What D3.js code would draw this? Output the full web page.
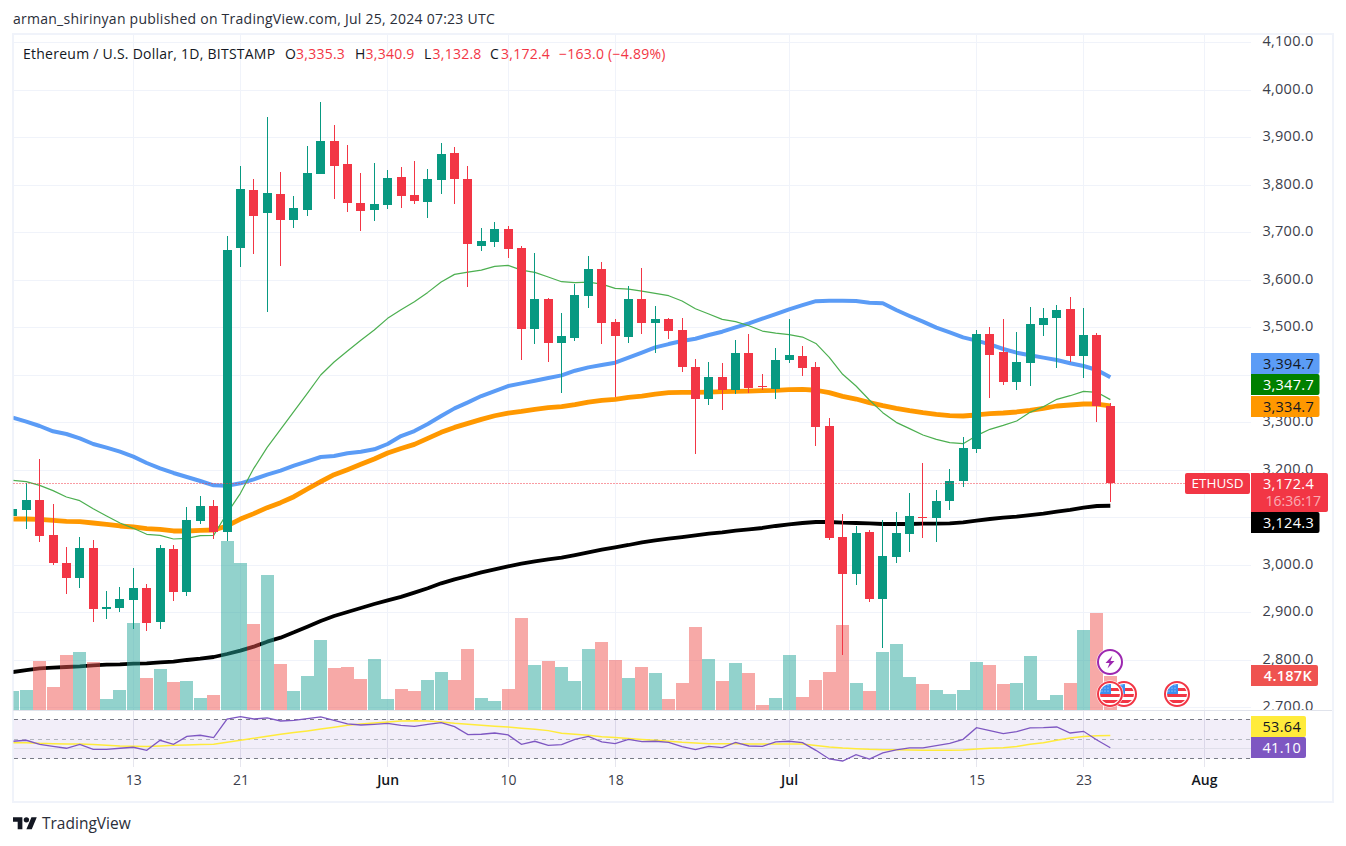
<!DOCTYPE html>
<html>
<head>
<meta charset="utf-8">
<script src="https://cdn.jsdelivr.net/npm/d3@7/dist/d3.min.js"></script>
<style>
html,body{margin:0;padding:0;background:#fff;}
svg{display:block;font-family:"Open Sans","Noto Sans",sans-serif;}
.cr{shape-rendering:crispEdges;}
</style>
</head>
<body>
<svg id="c" width="1346" height="846"></svg>
<script>
const opens=[3103,3115.4,3136.4,3062.7,3003.8,2972.2,3035.4,2907,2909,2925.9,
2951.2,2879.6,3033.3,2942.7,3092.2,3123.8,3069.1,3666.8,3789,3740.5,
3780.5,3725.8,3746.9,3822.7,3892.1,3843.7,3761.6,3746.9,3757.4,3816.3,
3778.4,3763.7,3810,3866.9,3812.1,3671.1,3679.5,3706.9,3666.9,3496.3,
3559.5,3466.9,3477.4,3565.8,3622.6,3511,3479.5,3559.5,3509,3517.4,
3494.2,3416.3,3348.9,3395.3,3367.9,3445.8,3376.3,3370,3431,3439.5,
3416.3,3292.2,3058.5,2980.6,3069,2928,3016.4,3064.8,3100.6,3098.5,
3134.3,3176.4,3243.8,3485.9,3448,3384.8,3424.9,3504.9,3519.6,3538.5,
3439.6,3483.8,3335.3];
const highs=[3135,3171.5,3222.8,3128,3037.5,3058.5,3052.2,2944.8,2953.3,2993.3,
2959.6,3041.7,3041.7,3121.7,3144.9,3136.4,3692.1,3839.5,3812.1,3942.7,
3826.9,3776.3,3881.6,3974.2,3925.8,3883.7,3824.8,3845.8,3831.1,3837.4,
3850,3833.2,3887.9,3879.5,3839.5,3709,3721.6,3713.2,3671.1,3656.3,
3561.6,3530,3591,3650,3637.4,3517.4,3586.9,3624.7,3544.8,3519.5,
3519.5,3433.2,3426.8,3424.7,3473.2,3485.8,3401.6,3456.3,3517.4,3460.5,
3426.8,3309,3106.9,3081.7,3073.3,3094.3,3111.1,3151.1,3214.3,3157.5,
3201.7,3269,3494.3,3500.6,3517.5,3490,3542.8,3540.7,3547,3563.8,
3540.7,3488,3340.9];
const lows=[3085,3075.4,3048.7,2999.6,2938.5,2951.2,2879.6,2885.9,2900.6,2864.8,
2860.6,2864.8,2923.8,2934.3,3085.9,3054.3,3050.1,3626.8,3654.2,3532.1,
3629,3708.9,3734.2,3822,3770,3742.6,3702.6,3723.7,3749,3751.1,
3759.5,3730,3780.5,3759.5,3584.8,3660.5,3669,3645.8,3431,3464.8,
3426.8,3361.6,3471,3540.6,3464.8,3353.2,3466.9,3485.8,3445.8,3475.3,
3405.8,3233.1,3336.3,3325.8,3359.5,3361.6,3367.9,3348.9,3424.7,3397.4,
3250,3052.2,2810.1,2957.5,2921.7,2824.8,3003.8,3026.9,3056.4,3048,
3115.4,3163.8,3235.4,3351.2,3378.5,3368,3376.4,3481.7,3414.3,3427,
3393.3,3300.6,3132.8];
const closes=[3117,3136.4,3060.6,3003.8,2972.2,3035.4,2907,2911.2,2928,2951.2,
2877.5,3035.4,2942.7,3094.3,3123.8,3069.1,3662.6,3791.1,3734.2,3782.6,
3725.8,3751.1,3824.8,3892.1,3839.5,3761.6,3744.8,3759.5,3814.2,3776.3,
3765.8,3812.1,3864.8,3812.1,3675.3,3681.6,3706.9,3664.8,3496.3,3559.5,
3466.9,3481.6,3567.9,3622.6,3509,3481.6,3559.5,3509,3517.4,3492.1,
3416.3,3348.9,3395.3,3367.9,3445.8,3372.1,3374.2,3431,3441.6,3414.2,
3290,3056.4,2980.6,3066.9,2928,3018.5,3066.9,3102.7,3098.5,3134.3,
3176.4,3245.9,3485.9,3441.7,3384.8,3427,3507,3519.6,3536.4,3439.6,
3483.8,3334.3,3172.4];
const volumesK=[2.34,2.46,6.03,2.83,6.77,7.14,5.91,1.35,2.46,10.71,
3.94,5.05,3.45,3.57,1.48,1.85,20.8,18.1,10.59,16.62,
5.66,2.34,4.19,8.62,5.17,5.29,3.82,6.28,1.35,2.59,
2.34,3.69,4.68,3.69,7.51,1.48,1.11,2.59,11.33,5.54,
6.03,5.29,3.57,7.51,8.37,6.16,3.94,5.29,4.55,1.35,
3.32,10.22,6.28,3.57,5.79,4.55,0.62,1.48,6.77,1.6,
3.69,4.68,10.46,3.32,2.34,7.14,8.12,4.06,3.2,2.46,
1.97,2.46,5.91,5.54,3.2,3.32,6.65,1.23,1.85,3.32,
9.85,11.94,4.187];
const maBlue=[3309.8,3301.4,3292.2,3281,3275.4,3266.3,3254.3,3246.6,3238.2,3227.7,
3214.3,3203.1,3193.3,3184.9,3176.4,3167.3,3166.6,3171.5,3180,3189.8,
3198.2,3208.7,3217.8,3227,3229.1,3234.7,3238.2,3243.1,3254.3,3271.1,
3281.6,3296.3,3313.2,3329.3,3341.9,3355.3,3365.8,3376.3,3381.9,3387.5,
3393.2,3398.8,3408.6,3415.6,3420.5,3425.4,3436,3446.5,3457.7,3464.7,
3471,3476,3483.7,3490.7,3499.8,3508.3,3518.1,3527.9,3537.7,3546.5,
3555,3556,3556,3555.4,3551.9,3550.5,3536.4,3523.8,3511.9,3499.2,
3489.4,3478.9,3471.9,3464.2,3454.3,3446.6,3441,3436.1,3431.2,3424.2,
3418.5,3410.1,3394.7];
const maOrange=[3096.4,3096.4,3095.7,3093.6,3091.5,3090.8,3088,3085.2,3081.7,3079.6,
3076.1,3074.7,3071.2,3071.2,3072.6,3073.3,3081.7,3096.4,3107.7,3120.3,
3130.8,3143.4,3159.6,3175,3189.8,3200.3,3211.5,3222.8,3235.4,3245,
3253.5,3266.1,3278.8,3289.3,3297.7,3306.1,3313.8,3319.5,3323,3327.2,
3330.7,3332.8,3337,3342.6,3346.1,3348.2,3352.4,3355.3,3359.5,3362.3,
3363,3363,3363.7,3364.4,3365.1,3365.8,3366.5,3367.2,3368.6,3369.3,
3367.5,3362.4,3354.7,3349,3341.3,3335,3329.4,3324.5,3320.3,3316.8,
3314,3313.3,3315.4,3318.2,3319.6,3321.7,3325.2,3329.4,3334.3,3336.4,
3338.5,3338.5,3334.7];
const maGreen=[3177.8,3175,3167.3,3156.1,3142.8,3135,3118.2,3102.8,3088,3076.8,
3064.2,3062,3054.3,3055.7,3061.3,3062,3108.4,3150.5,3203.1,3247.3,
3285.2,3323.1,3361,3399.6,3427,3450.1,3472.8,3494.2,3518.8,3537,
3553.9,3573.5,3595.3,3611.4,3616.3,3620.5,3628.3,3630.4,3620.5,3615.6,
3605.8,3596,3593.9,3595.3,3591,3581.9,3580.5,3576.3,3571.4,3566.5,
3555.3,3539.1,3527.9,3516.7,3511.8,3503.3,3492.1,3487.9,3484.4,3479.5,
3466,3436.8,3401,3376.4,3346.9,3320.3,3299.9,3286.6,3273.3,3264.1,
3257.1,3255,3271.9,3285.2,3293.6,3302.7,3321,3332.9,3348.4,3356,
3365.2,3363.1,3347.7];
const maBlack=[2774.3,2778.5,2782,2783.4,2784.8,2786.2,2788.3,2789.7,2790.4,2791.8,
2792.5,2794.6,2796,2799.6,2802.4,2805.9,2812.2,2819.2,2827.6,2838.2,
2846.6,2857.8,2869.8,2881.7,2892.2,2900.6,2909,2917.5,2925.2,2932.5,
2941.3,2950.5,2961,2969.4,2976.4,2984.2,2990.5,2996.8,3002.4,3007.3,
3011.5,3015,3020.6,3026.3,3031.9,3036.8,3041.7,3047.3,3051.5,3055,
3058.5,3062,3065.6,3068.4,3071.9,3074.7,3077.5,3081.7,3085.2,3088,
3090.1,3090.1,3088.7,3088,3087.3,3085.9,3085.9,3085.9,3086.6,3086.6,
3087.3,3089.4,3092.9,3096.4,3099.2,3101.3,3104.8,3107.6,3111.8,3115.4,
3120.3,3123.8,3124.3];
const rsi=[47.7,48.7,44.6,42.6,40.6,44.6,39.5,39.5,40.6,41.6,
38.5,48.7,44.6,52.7,53.8,51.4,70.3,72.7,70.3,71.4,
68.3,69,70.7,72.4,69,65.3,64.2,64.9,65.9,63.9,
62.9,64.9,66.6,62.6,54.4,54.8,56.1,54.1,44.6,47.7,
43.6,44.3,49.7,52.7,47,45.3,49.7,47.3,47.7,46.6,
42.3,39.2,42.6,41.2,46.6,42.9,42.6,47,47.7,46.3,
38.5,29.7,27.7,34.1,29.7,35.8,38.9,40.9,40.9,43.3,
45.6,49.7,61.5,58.5,55.4,57.5,61.2,61.5,62.2,56.1,
57.8,49,41.1];
const rsiMa=[46.3,46.3,45.6,45.3,45,45,44.3,43.6,42.9,42.6,
42.3,42.9,43.6,43.9,44.3,44.6,46.6,48.7,50.7,52.7,
54.8,56.5,58.2,60.2,61.9,63.9,65.3,66.3,67.3,68.3,
68.6,68.3,67.3,65.9,64.9,63.9,62.9,62.2,60.9,59.8,
58.5,55.8,54.8,53.8,52.4,51.4,50.4,49.4,48.7,47.7,
46.6,46,45.3,45.3,45.3,45,45,45,45,45,
43.3,41.9,40.9,40.2,39.5,39.2,39.2,38.9,38.5,38.5,
38.5,38.9,39.9,40.6,41.2,42.3,44.6,46.3,48.7,51,
52.6,53.2,53.64];
const gridPrices=[2700,2800,2900,3000,3100,3200,3300,3400,3500,3600,3700,3800,3900,4000,4100];
const priceTicks=[2700,2800,2900,3000,3200,3300,3500,3600,3700,3800,3900,4000,4100];
const timeTicks=["2024-05-13","2024-05-21","2024-06-01","2024-06-10","2024-06-18","2024-07-01","2024-07-15","2024-07-23","2024-08-01"];
const timeLabels=["13","21","Jun","10","18","Jul","15","23","Aug"];
const firstDay="2024-05-04";
const lastTick="2024-08-01";
const rsiLevels=[70,50,30];
const rsiGrid=[40];

const UP="#089981",DOWN="#f23645",INK="#131722",GRID="#f0f3fa";
const svg=d3.select("#c");
const dates=opens.map((_,i)=>d3.utcDay.offset(new Date(firstDay),i));
const x=d3.scaleUtc().domain([new Date(firstDay),new Date(lastTick)]).range([12.9,1204]);
const y=d3.scaleLinear().domain([2700,4100]).range([707.3,42.3]);
const yVol=d3.scaleLinear().domain([0,20.8]).range([710,541]);
const yRsi=d3.scaleLinear().domain([30,70]).range([758.7,719.3]);
const L=13.5,R=1251;

const defs=svg.append("defs");
defs.append("clipPath").attr("id","main").append("rect").attr("x",L).attr("y",35).attr("width",R-L).attr("height",675);
defs.append("clipPath").attr("id","rsi").append("rect").attr("x",L).attr("y",711).attr("width",R-L).attr("height",56);
defs.append("clipPath").attr("id","ax").append("rect").attr("x",R).attr("y",35).attr("width",82).attr("height",675);

// page texts
const t=(x0,y0,s,o={})=>svg.append("text").attr("x",x0).attr("y",y0).attr("dy","0.35em").attr("font-size",o.size||14)
  .attr("letter-spacing",o.ls===undefined?.25:o.ls)
  .attr("fill",o.fill||INK).attr("text-anchor",o.anchor||"start").attr("font-weight",o.weight||400).text(s);
t(13,19,"arman_shirinyan published on TradingView.com, Jul 25, 2024 07:23 UTC",{fill:"#2a2e39"});

// frame & grid
const grid=svg.append("g").attr("class","cr");
grid.selectAll(".h").data(gridPrices).join("line").attr("x1",L).attr("x2",R).attr("y1",d=>Math.round(y(d))+.5).attr("y2",d=>Math.round(y(d))+.5)
  .attr("stroke",GRID).attr("stroke-width",1);
grid.selectAll(".v").data(timeTicks).join("line").attr("x1",d=>Math.floor(x(new Date(d)))+.5).attr("x2",d=>Math.floor(x(new Date(d)))+.5)
  .attr("y1",35).attr("y2",710).attr("stroke",GRID);
grid.selectAll(".v2").data(timeTicks).join("line").attr("x1",d=>Math.floor(x(new Date(d)))+.5).attr("x2",d=>Math.floor(x(new Date(d)))+.5)
  .attr("y1",711).attr("y2",767).attr("stroke","#e6e6ee");
svg.append("rect").attr("class","cr").attr("x",13).attr("y",34).attr("width",1319.5).attr("height",767.5).attr("fill","none").attr("stroke",GRID).attr("stroke-width",2);
svg.append("line").attr("class","cr").attr("x1",13).attr("x2",1332).attr("y1",710.5).attr("y2",710.5).attr("stroke","#e0e3eb");

// legend
const lg=(x0,s,c)=>t(x0,54,s,{fill:c});
lg(23,"Ethereum / U.S. Dollar, 1D, BITSTAMP",INK);
lg(285,"O",INK);lg(296,"3,335.3",DOWN);lg(355,"H",INK);lg(365.5,"3,340.9",DOWN);lg(424,"L",INK);lg(432.5,"3,132.8",DOWN);lg(490,"C",INK);lg(501,"3,172.4",DOWN);lg(559,"\u2212163.0 (\u22124.89%)",DOWN);

// main pane
const main=svg.append("g").attr("clip-path","url(#main)");
const line=d3.line().x((_,i)=>x(dates[i])).y(d=>y(d));
[[maBlack,"#000000",3.8,1],[maOrange,"#ff9800",4.8,1],[maBlue,"#5b9cf6",4,1],[maGreen,"#4caf50",1.2,1]].forEach(([a,c,w,o])=>{
  main.append("path").attr("d",line(a)).attr("fill","none").attr("stroke",c).attr("stroke-width",w).attr("stroke-opacity",o).attr("stroke-linejoin","round");
});
main.append("g").attr("class","cr").selectAll("rect").data(volumesK).join("rect")
  .attr("x",(_,i)=>Math.floor(x(dates[i])-6))
  .attr("width",(_,i)=>Math.ceil(x(dates[i])+6)-Math.floor(x(dates[i])-6))
  .attr("y",d=>yVol(d)).attr("height",d=>yVol(0)-yVol(d))
  .attr("fill",(_,i)=>closes[i]>=opens[i]?"rgba(38,166,154,.5)":"rgba(239,83,80,.5)");
const cg=main.append("g").attr("class","cr");
opens.forEach((o,i)=>{
  const c=closes[i],col=c>=o?UP:DOWN,cx=Math.floor(x(dates[i]));
  cg.append("rect").attr("x",cx).attr("width",1).attr("y",y(highs[i])).attr("height",y(lows[i])-y(highs[i])).attr("fill",col);
  const top=y(Math.max(o,c)),bot=y(Math.min(o,c));
  cg.append("rect").attr("x",cx-4).attr("width",9).attr("y",top).attr("height",Math.max(1,bot-top)).attr("fill",col);
});
// last-price line
const lastY=Math.round(y(closes[closes.length-1]))+.5;
svg.append("line").attr("x1",L).attr("x2",1185).attr("y1",lastY).attr("y2",lastY).attr("stroke",DOWN).attr("stroke-width",1).attr("stroke-dasharray","1 2");

// rsi pane
const rp=svg.append("g").attr("clip-path","url(#rsi)");
rp.append("rect").attr("x",L).attr("width",R-L).attr("y",yRsi(70)).attr("height",yRsi(30)-yRsi(70)).attr("fill","#7e57c2").attr("fill-opacity",.1);
rp.selectAll(".g").data(rsiGrid).join("line").attr("class","cr").attr("x1",L).attr("x2",R).attr("y1",d=>yRsi(d)).attr("y2",d=>yRsi(d)).attr("stroke","#e0dfea");
rp.selectAll(".l").data(rsiLevels).join("line").attr("class","cr").attr("x1",L).attr("x2",R).attr("y1",d=>yRsi(d)).attr("y2",d=>yRsi(d))
  .attr("stroke",d=>d===50?"#b2b5be":"#787b86").attr("stroke-dasharray","4 4");
const rl=d3.line().x((_,i)=>x(dates[i])).y(d=>yRsi(d));
rp.append("path").attr("d",rl(rsiMa)).attr("fill","none").attr("stroke","#ffeb3b").attr("stroke-width",1.5);
rp.append("path").attr("d",rl(rsi)).attr("fill","none").attr("stroke","#7e57c2").attr("stroke-width",1.3);

// event icons
const flag=(cx,cy)=>{
  const g=svg.append("g").attr("transform",`translate(${cx},${cy})`);
  g.append("circle").attr("r",13.5).attr("fill","#fff");
  const id="f"+cx;
  defs.append("clipPath").attr("id",id).append("circle").attr("r",10);
  const b=g.append("g").attr("clip-path",`url(#${id})`);
  b.append("rect").attr("x",-11).attr("y",-11).attr("width",22).attr("height",22).attr("fill","#fff");
  [-6,0,6].forEach(v=>b.append("rect").attr("x",-11).attr("y",v).attr("width",22).attr("height",3).attr("fill","#f23645"));
  b.append("rect").attr("x",-11).attr("y",-11).attr("width",12).attr("height",11).attr("fill","#3d8ff0");
  [-8,-5,-2].forEach(a=>[-9,-6,-3].forEach(c=>b.append("circle").attr("cx",a).attr("cy",c).attr("r",.6).attr("fill","#cfe3ff")));
  g.append("circle").attr("r",12).attr("fill","none").attr("stroke","#f23645").attr("stroke-width",2);
};
flag(1124,694);flag(1110,694);flag(1177,694);
const bolt=svg.append("g").attr("transform","translate(1110,662)");
bolt.append("circle").attr("r",13.5).attr("fill","#fff");
bolt.append("circle").attr("r",12).attr("fill","#fff").attr("stroke","#9c27b0").attr("stroke-width",2);
bolt.append("path").attr("d","M2.5 -6.5 L-4.5 1 L-0.5 1 L-2.5 6.5 L4.5 -1 L0.5 -1 Z").attr("fill","#9c27b0");

// axes
const ax=svg.append("g").attr("clip-path","url(#ax)");
const axisG=ax.append("g").attr("transform","translate(1313.5,-1.2)")
  .call(d3.axisLeft(y).tickValues(priceTicks).tickFormat(d3.format(",.1f")).tickSize(0).tickPadding(0));
axisG.select(".domain").remove();
axisG.selectAll("text").attr("font-size",14.5).attr("letter-spacing",.3).attr("font-family",'"Open Sans",sans-serif').attr("fill","#3c404b");
const axisT=svg.append("g").attr("transform","translate(0,775.5)")
  .call(d3.axisBottom(x).tickValues(timeTicks.map(d=>new Date(d))).tickFormat((d,i)=>timeLabels[i]).tickSize(0).tickPadding(0));
axisT.select(".domain").remove();
axisT.selectAll("text").attr("font-size",14).attr("font-family",'"Open Sans",sans-serif').attr("fill",(d,i)=>isNaN(+timeLabels[i])?INK:"#3c404b")
  .attr("font-weight",(d,i)=>isNaN(+timeLabels[i])?600:400);

// price labels
const lab=(y0,h,w,bg,s,fg,o={})=>{
  svg.append("path").attr("d",`M1251 ${y0}H${1251+w-2}a2 2 0 0 1 2 2V${y0+h-2}a2 2 0 0 1 -2 2H1251Z`).attr("fill",bg);
  if(s)t(o.tx||1314,y0+h/2,s,{anchor:"end",fill:fg,size:14.5,ls:.3,weight:o.weight||400});
};
lab(353,21,68.5,"#5b9cf6",d3.format(",.1f")(maBlue[82]),INK);
lab(374,21,68.5,"#008000",d3.format(",.1f")(maGreen[82]),"#fff");
lab(396,21,68.5,"#ff9800",d3.format(",.1f")(maOrange[82]),INK);
lab(473,39,77,DOWN,null);
t(1314,483.5,d3.format(",.1f")(closes[82]),{anchor:"end",fill:"#fff",size:14.5,ls:.3});
t(1321,501,"16:36:17",{anchor:"end",fill:"#fff",size:14,ls:0}).attr("fill-opacity",.6);
lab(512,21,68.5,"#000",d3.format(",.1f")(maBlack[82]),"#fff");
lab(665,21,67,"#ef5350",d3.format(".3f")(volumesK[82])+"K","#fff",{tx:1312,weight:600});
lab(716,21,55,"#ffeb3b",d3.format(".2f")(rsiMa[82]),INK,{tx:1301});
lab(737,21,55,"#7e57c2",d3.format(".2f")(rsi[82]),"#fff",{tx:1301});
svg.append("rect").attr("x",1185).attr("y",473).attr("width",65).attr("height",21).attr("rx",2).attr("fill",DOWN);
t(1217.5,483.5,"ETHUSD",{anchor:"middle",fill:"#fff",size:13.5,ls:0});

// TradingView mark
const lg2=svg.append("g").attr("transform","translate(13,814.5) scale(.67)").attr("fill",INK);
lg2.append("path").attr("d","M14 22H7V11H0V4h14v18zM28 22h-8l7.5-18h8L28 22z");
lg2.append("circle").attr("cx",20).attr("cy",8).attr("r",4);
t(42,824,"TradingView",{size:15.5,fill:"#2a2e39",ls:0});
</script>
</body>
</html>
